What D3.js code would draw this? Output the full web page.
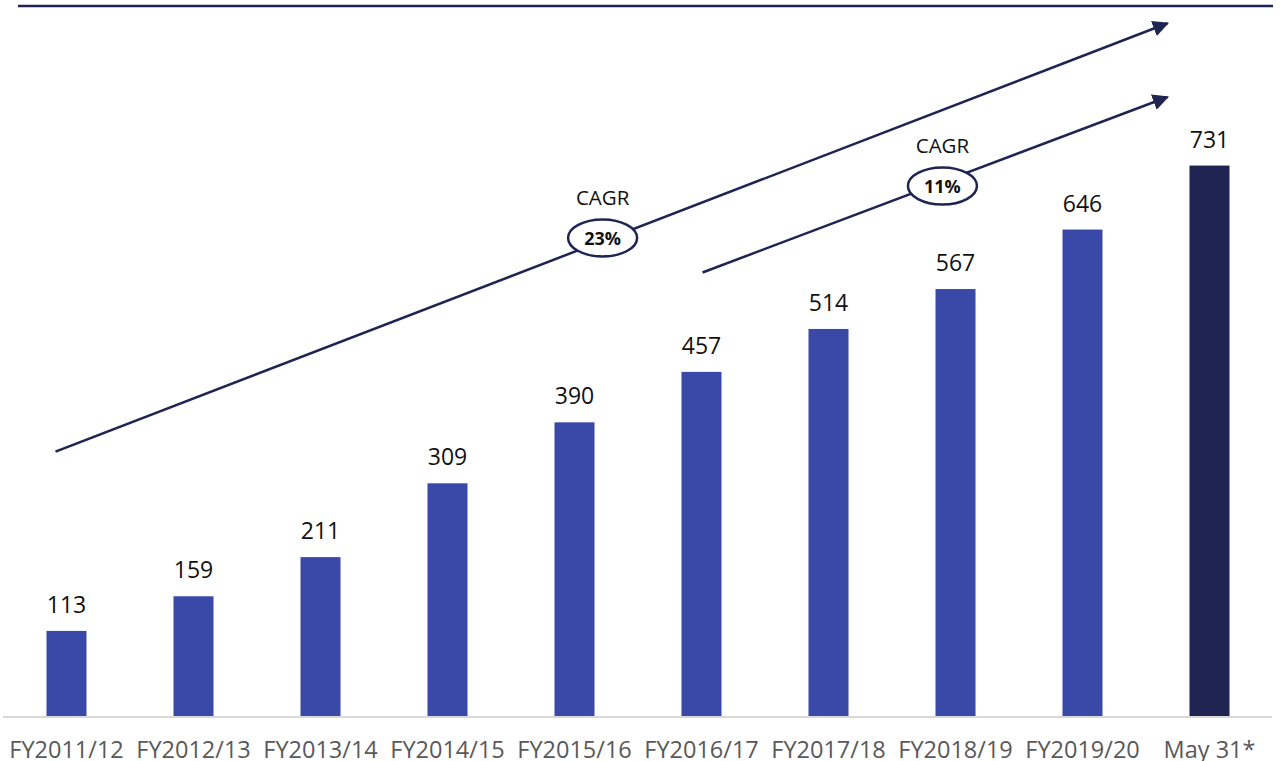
<!DOCTYPE html>
<html>
<head>
<meta charset="utf-8">
<script src="https://cdn.jsdelivr.net/npm/d3@7/dist/d3.min.js"></script>
<style>
  html, body { margin: 0; padding: 0; background: #fff; }
  svg { display: block; font-family: "Open Sans", "Noto Sans", sans-serif; }
</style>
</head>
<body>
<svg id="chart" width="1280" height="761"></svg>
<script>
// Categories and values
const categories = ["FY2011/12", "FY2012/13", "FY2013/14", "FY2014/15", "FY2015/16",
                    "FY2016/17", "FY2017/18", "FY2018/19", "FY2019/20", "May 31*"];
const values = [113, 159, 211, 309, 390, 457, 514, 567, 646, 731];
const highlighted = ["May 31*"];

// CAGR annotations: arrow from a category (value space) to past the last bar
const cagrLabels = ["23%", "11%"];
const cagrFrom = ["FY2011/12", "FY2016/17"];
const cagrStartValue = [351, 589];
const cagrEndValue = [920, 822];

const svg = d3.select("#chart");
const baseY = 716;

const x = d3.scaleBand()
  .domain(categories)
  .range([3, 1273])
  .paddingInner(0.685)
  .paddingOuter(0.3425);

const y = d3.scaleLinear()
  .domain([0, 952])
  .range([baseY, baseY - 952 * 0.753]);

const navy = "#1f2452";
const blue = "#3a49a8";

// Top rule
svg.append("line")
  .attr("x1", 18).attr("x2", 1273)
  .attr("y1", 6).attr("y2", 6)
  .attr("stroke", navy).attr("stroke-width", 2.5);

// Bars
svg.append("g").selectAll("rect")
  .data(categories)
  .join("rect")
  .attr("x", d => x(d))
  .attr("width", x.bandwidth())
  .attr("y", (d, i) => y(values[i]))
  .attr("height", (d, i) => y(0) - y(values[i]))
  .attr("fill", d => highlighted.includes(d) ? navy : blue);

// Baseline
svg.append("line")
  .attr("x1", 3).attr("x2", 1272)
  .attr("y1", baseY + 1).attr("y2", baseY + 1)
  .attr("stroke", "#d9d9d9").attr("stroke-width", 2);

// Value labels
svg.append("g").selectAll("text")
  .data(categories)
  .join("text")
  .attr("x", d => x(d) + x.bandwidth() / 2)
  .attr("y", (d, i) => y(values[i]) - 18)
  .attr("text-anchor", "middle")
  .attr("font-size", 23)
  .attr("fill", "#111")
  .text((d, i) => values[i]);

// Category axis
const xAxis = d3.axisBottom(x).tickSize(0).tickPadding(0);
const gx = svg.append("g")
  .attr("transform", `translate(0,${baseY})`)
  .call(xAxis);
gx.select(".domain").remove();
gx.selectAll("text")
  .attr("dy", null)
  .attr("y", 42)
  .attr("font-size", 23.5)
  .attr("font-family", "\"Open Sans\", sans-serif")
  .attr("fill", "#595959");

// CAGR arrows
const defs = svg.append("defs");
defs.append("marker")
  .attr("id", "arrow")
  .attr("viewBox", "0 0 10 10")
  .attr("refX", 9).attr("refY", 5)
  .attr("markerWidth", 6.5).attr("markerHeight", 6.5)
  .attr("markerUnits", "strokeWidth")
  .attr("orient", "auto")
  .append("path")
  .attr("d", "M0,0 L10,5 L0,10 Z")
  .attr("fill", navy);

const last = categories[categories.length - 1];
const endX = x(last) + x.bandwidth() / 2 - 42;
const startShift = [-11, 1];
const badgeT = [0.492, 0.516];
const badgeDy = [-3, 4];

cagrLabels.forEach((lab, i) => {
  const sx = x(cagrFrom[i]) + x.bandwidth() / 2 + startShift[i];
  const sy = y(cagrStartValue[i]);
  const ey = y(cagrEndValue[i]);
  svg.append("line")
    .attr("x1", sx).attr("y1", sy)
    .attr("x2", endX).attr("y2", ey)
    .attr("stroke", navy).attr("stroke-width", 2.5)
    .attr("marker-end", "url(#arrow)");

  // Badge position along the arrow
  const t = badgeT[i];
  const cx = sx + (endX - sx) * t;
  const cy = sy + (ey - sy) * t + badgeDy[i];

  svg.append("ellipse")
    .attr("cx", cx).attr("cy", cy)
    .attr("rx", 34.5).attr("ry", 18.5)
    .attr("fill", "#fff")
    .attr("stroke", navy).attr("stroke-width", 2.5);
  svg.append("text")
    .attr("x", cx).attr("y", cy + 7)
    .attr("text-anchor", "middle")
    .attr("font-size", 18).attr("font-weight", "bold")
    .attr("fill", "#111")
    .text(lab);
  svg.append("text")
    .attr("x", cx).attr("y", cy - 33)
    .attr("text-anchor", "middle")
    .attr("font-size", 20.5)
    .attr("fill", "#111")
    .text("CAGR");
});
</script>
</body>
</html>
